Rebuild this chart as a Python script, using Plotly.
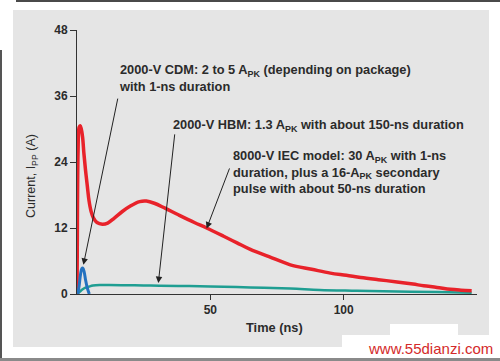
import plotly.graph_objects as go

# ---- data ----
iec_t = [0, 0.1, 0.4, 0.8, 1.2, 1.6, 2.1, 2.6, 3.2, 3.9, 4.5, 5.3, 6.2, 7.5, 9.5, 11.5, 14, 17, 20, 23.5,
         26, 29, 33, 38, 44, 48.6, 55, 60, 65, 72, 80, 88, 95, 101, 106.4, 113, 120, 126, 130, 135, 140, 144, 148]
iec_i = [0, 8, 26, 30.3, 30.6, 30.0, 28.5, 25.5, 22.5, 19.5, 17.0, 15.0, 13.8, 13.0, 12.7, 12.9, 13.8, 15.0, 16.0, 16.8,
         16.9, 16.5, 15.6, 14.4, 13.0, 12.0, 10.5, 9.3, 8.1, 6.8, 5.3, 4.5, 3.8, 3.4, 3.0, 2.6, 2.2, 1.8, 1.5, 1.2, 0.85, 0.7, 0.6]

hbm_t = [0, 1, 2, 3, 4.5, 6, 8.5, 12, 18, 25, 31, 40, 50, 65, 80, 91, 105, 120, 135, 148]
hbm_i = [0, 0.4, 0.8, 1.1, 1.35, 1.55, 1.65, 1.65, 1.6, 1.55, 1.5, 1.45, 1.35, 1.2, 1.0, 0.75, 0.6, 0.45, 0.35, 0.25]

cdm_t = [0.3, 0.8, 1.3, 1.8, 2.2, 2.7, 3.2, 3.8, 4.6]
cdm_i = [0, 1.5, 3.5, 4.6, 4.7, 4.0, 2.6, 1.2, 0]

y_ticks = [0, 12, 24, 36, 48]
x_ticks = [50, 100]

# arrow (tail, head) pairs in data units
arrows = [((15.4, 35.8), (2.4, 5.3)),
          ((36.7, 29.3), (30.5, 2.0)),
          ((57.4, 23.1), (48.6, 11.9))]

# ---- figure ----
L, R, T, B = 77, 477, 30, 294  # plot area in pixels
W, H = 500, 361


def px(x):
    return (x - L) / (R - L)


def py(y):
    return (B - y) / (B - T)


def prect(x0, y0, x1, y1, color, layer="below"):
    return dict(type="rect", xref="paper", yref="paper", x0=px(x0), x1=px(x1), y0=py(y1), y1=py(y0),
                fillcolor=color, line=dict(width=0), layer=layer)


fig = go.Figure()
fig.add_trace(go.Scatter(x=hbm_t, y=hbm_i, mode="lines", line=dict(color="#1f9e92", width=2.5, shape="spline"),
                         hoverinfo="skip"))
fig.add_trace(go.Scatter(x=iec_t, y=iec_i, mode="lines", line=dict(color="#e8222a", width=3.5, shape="spline"),
                         hoverinfo="skip"))
fig.add_trace(go.Scatter(x=cdm_t, y=cdm_i, mode="lines", line=dict(color="#2472c0", width=3, shape="spline"),
                         hoverinfo="skip"))

txt = "#2b2b2b"
bold = dict(family="Liberation Sans", size=12.8, color=txt, weight="bold")
tickf = dict(family="Liberation Sans", size=12, color=txt, weight="bold")

shapes = [
    # white surround of the gray panel (paper background is the panel gray)
    prect(0, 0, 500, 10, "white"),
    prect(0, 0, 13, 361, "white"),
    prect(489, 0, 500, 361, "white"),
    prect(0, 347, 500, 361, "white"),
    # watermark white boxes
    prect(342, 335, 500, 358, "white"),
    prect(390, 324, 458, 335, "white"),
    # frame bits
    prect(16, 0, 500, 2, "#4a4a4a"),
    prect(0, 50, 2, 358, "#555555"),
    prect(0, 358, 500, 361, "#8a8a8a"),
]

annotations = []
for (tx, ty), (hx, hy) in arrows:
    annotations.append(dict(x=hx, y=hy, ax=tx, ay=ty, xref="x", yref="y", axref="x", ayref="y",
                            text="", showarrow=True, arrowhead=2, arrowsize=1.3, arrowwidth=1,
                            arrowcolor="#222222", standoff=0))

annotations += [
    dict(x=px(117), y=py(77.5), xref="paper", yref="paper", xanchor="left", yanchor="middle", align="left",
         showarrow=False, font=bold,
         text="2000-V CDM: 2 to 5 A<sub>PK</sub> (depending on package)<br>with 1-ns duration"),
    dict(x=px(171), y=py(125), xref="paper", yref="paper", xanchor="left", yanchor="middle", align="left",
         showarrow=False, font=bold,
         text="2000-V HBM: 1.3 A<sub>PK</sub> with about 150-ns duration"),
    dict(x=px(231), y=py(171.5), xref="paper", yref="paper", xanchor="left", yanchor="middle", align="left",
         showarrow=False, font=bold,
         text="8000-V IEC model: 30 A<sub>PK</sub> with 1-ns<br>duration, plus a 16-A<sub>PK</sub> secondary"
              "<br>pulse with about 50-ns duration"),
    dict(x=px(274), y=py(327), xref="paper", yref="paper", xanchor="center", yanchor="middle",
         showarrow=False, font=bold, text="Time (ns)"),
    dict(x=px(32), y=py(176), xref="paper", yref="paper", xanchor="center", yanchor="middle", textangle=-90,
         showarrow=False, font=dict(family="Liberation Sans", size=12.5, color=txt),
         text="Current, I<sub>PP</sub> (A)"),
    dict(x=px(430), y=py(348), xref="paper", yref="paper", xanchor="center", yanchor="middle",
         showarrow=False, font=dict(family="Liberation Sans", size=15, color="#d42a2a"),
         text="www.55dianzi.com"),
]

fig.update_layout(
    width=W, height=H,
    margin=dict(l=L, r=W - R, t=T, b=H - B, pad=0),
    paper_bgcolor="#e5e5e5",
    plot_bgcolor="rgba(0,0,0,0)",
    showlegend=False,
    shapes=shapes,
    annotations=annotations,
    xaxis=dict(range=[0, 150], tickvals=x_ticks, ticks="outside", ticklen=5, tickcolor="#333",
               showline=True, linecolor="#333", linewidth=1, showgrid=False, zeroline=False,
               tickfont=tickf, fixedrange=True),
    yaxis=dict(range=[0, 48], tickvals=y_ticks, ticks="outside", ticklen=6, tickcolor="#333",
               showline=True, linecolor="#333", linewidth=1, showgrid=False, zeroline=False,
               tickfont=tickf, fixedrange=True),
)

fig.write_html("out.html", config={"displayModeBar": False},
               post_script="document.body.style.margin='0';document.body.style.overflow='hidden';")
